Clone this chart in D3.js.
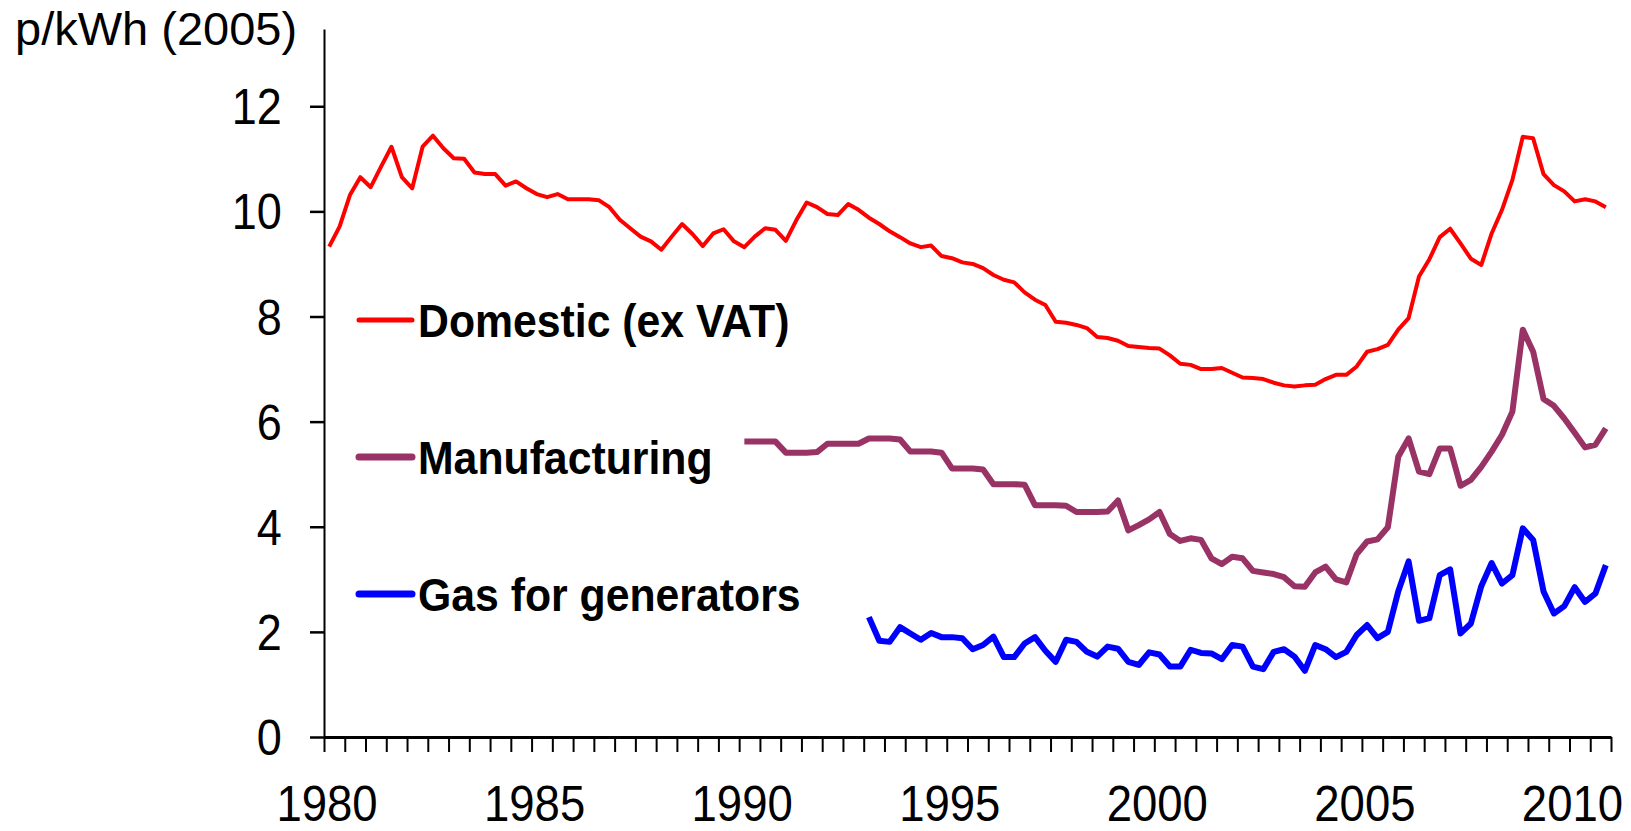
<!DOCTYPE html>
<html>
<head>
<meta charset="utf-8">
<script src="https://cdnjs.cloudflare.com/ajax/libs/d3/7.8.5/d3.min.js"></script>
<style>
    body { margin: 0; background: #fff; }
    svg { display: block; font-family: "Liberation Sans", Arial, sans-serif; }
</style>
</head>
<body>
<svg id="chart" width="1631" height="831"></svg>
<script>
// quarterly prices, p/kWh in 2005 money
const startYear = 1980;
const endYear = 2011;

const domestic = [
    9.33, 9.71, 10.31, 10.65, 10.46, 10.85, 11.23, 10.65, 10.44, 11.23,
    11.44, 11.20, 11.01, 11.00, 10.74, 10.71, 10.71, 10.49, 10.57, 10.44,
    10.33, 10.27, 10.33, 10.23, 10.23, 10.23, 10.21, 10.08, 9.84, 9.68,
    9.52, 9.43, 9.27, 9.52, 9.76, 9.57, 9.34, 9.58, 9.66, 9.43,
    9.32, 9.52, 9.68, 9.65, 9.44, 9.83, 10.17, 10.08, 9.95, 9.93,
    10.14, 10.03, 9.88, 9.76, 9.62, 9.51, 9.39, 9.32, 9.35, 9.15,
    9.11, 9.03, 9.00, 8.92, 8.79, 8.70, 8.65, 8.46, 8.32, 8.22,
    7.90, 7.88, 7.84, 7.78, 7.61, 7.59, 7.54, 7.44, 7.42, 7.40,
    7.39, 7.26, 7.10, 7.08, 7.00, 7.00, 7.02, 6.93, 6.84, 6.83,
    6.81, 6.74, 6.69, 6.67, 6.69, 6.70, 6.81, 6.89, 6.89, 7.05,
    7.33, 7.38, 7.46, 7.75, 7.97, 8.76, 9.09, 9.51, 9.67, 9.39,
    9.10, 8.98, 9.58, 10.03, 10.60, 11.42, 11.39, 10.71, 10.50, 10.38,
    10.19, 10.23, 10.19, 10.08
];

const manufacturingStart = 1990;
const manufacturing = [
    5.62, 5.62, 5.62, 5.62, 5.41, 5.41, 5.41, 5.42, 5.58, 5.58,
    5.58, 5.58, 5.68, 5.68, 5.68, 5.66, 5.43, 5.43, 5.43, 5.41,
    5.11, 5.11, 5.11, 5.09, 4.81, 4.81, 4.81, 4.80, 4.41, 4.41,
    4.41, 4.40, 4.28, 4.28, 4.28, 4.29, 4.50, 3.93, 4.03, 4.14,
    4.28, 3.86, 3.73, 3.78, 3.75, 3.40, 3.29, 3.43, 3.40, 3.16,
    3.13, 3.10, 3.04, 2.87, 2.86, 3.13, 3.24, 3.00, 2.94, 3.48,
    3.72, 3.76, 3.99, 5.33, 5.68, 5.05, 5.00, 5.49, 5.49, 4.78,
    4.89, 5.14, 5.43, 5.75, 6.19, 7.75, 7.33, 6.43, 6.30, 6.06,
    5.79, 5.51, 5.56, 5.87
];

const gasStart = 1993;
const gas = [
    2.28, 1.83, 1.81, 2.09, 1.97, 1.85, 1.98, 1.90,
    1.90, 1.88, 1.67, 1.75, 1.91, 1.52, 1.52, 1.78, 1.90, 1.64,
    1.43, 1.85, 1.81, 1.62, 1.53, 1.72, 1.68, 1.43, 1.37, 1.61,
    1.57, 1.34, 1.34, 1.66, 1.60, 1.59, 1.48, 1.75, 1.72, 1.34,
    1.29, 1.62, 1.67, 1.53, 1.26, 1.75, 1.67, 1.52, 1.62, 1.94,
    2.13, 1.88, 2.00, 2.77, 3.34, 2.21, 2.26, 3.08, 3.19, 1.97,
    2.16, 2.87, 3.31, 2.92, 3.08, 3.97, 3.75, 2.77, 2.35, 2.49,
    2.85, 2.57, 2.73, 3.27
];

const yearLabels = [1980, 1985, 1990, 1995, 2000, 2005, 2010];
const yTicks = [0, 2, 4, 6, 8, 10, 12];
const seriesNames = ["Domestic (ex VAT)", "Manufacturing", "Gas for generators"];
const unitLabel = "p/kWh (2005)";

// series styling, kept apart from the numbers
const seriesStyle = [
    {color: "#ff0000", width: 4},
    {color: "#993366", width: 6},
    {color: "#0000ff", width: 6}
];

const svg = d3.select("#chart");

const x = d3.scaleLinear().domain([startYear, endYear]).range([324, 1611]);
const y = d3.scaleLinear().domain([0, 13.47]).range([737, 29]);

//turn a list of quarterly values into points in the middle of each quarter
function toPoints(firstYear, values) {
    return values.map(function (v, i) {
        return {t: firstYear + (i + 0.5) / 4, v: v};
    });
}

const series = [
    toPoints(startYear, domestic),
    toPoints(manufacturingStart, manufacturing),
    toPoints(gasStart, gas)
];

//y axis
const yAxis = svg.append("g")
    .attr("transform", "translate(" + x(startYear) + ",0)")
    .call(d3.axisLeft(y).tickValues(yTicks).tickSize(14).tickSizeOuter(0).tickPadding(33));

yAxis.select(".domain").attr("stroke", "#000").attr("stroke-width", 2);
yAxis.selectAll(".tick line").attr("stroke", "#000").attr("stroke-width", 2.5);
yAxis.selectAll(".tick text")
    .attr("font-size", 50)
    .attr("font-family", "'Liberation Sans', Arial, sans-serif")
    .attr("fill", "#000")
    .attr("dy", "0.35em")
    .attr("transform", "scale(0.9,1)");

//x axis with half-year ticks
const halfYears = d3.range(startYear, endYear + 0.01, 0.5);
const xAxis = svg.append("g")
    .attr("transform", "translate(0," + y(0) + ")")
    .call(d3.axisBottom(x).tickValues(halfYears).tickSize(15).tickSizeOuter(0).tickFormat(""));

xAxis.select(".domain").attr("stroke", "#000").attr("stroke-width", 3);
xAxis.selectAll(".tick line").attr("stroke", "#000").attr("stroke-width", 2);

svg.append("g")
    .selectAll("text")
    .data(yearLabels)
    .enter().append("text")
    .attr("transform", function (d) {
        return "translate(" + (x(d) + 3) + ",821) scale(0.91,1)";
    })
    .attr("text-anchor", "middle")
    .attr("font-size", 50)
    .text(function (d) { return d; });

//unit label
svg.append("text")
    .attr("x", 15)
    .attr("y", 45)
    .attr("font-size", 47)
    .text(unitLabel);

//lines
const line = d3.line()
    .x(function (d) { return x(d.t); })
    .y(function (d) { return y(d.v); });

svg.append("g")
    .selectAll("path")
    .data(series)
    .enter().append("path")
    .attr("d", line)
    .attr("fill", "none")
    .attr("stroke", function (d, i) { return seriesStyle[i].color; })
    .attr("stroke-width", function (d, i) { return seriesStyle[i].width; })
    .attr("stroke-linejoin", "round");

//legend
const legendRows = [320, 457, 594];
const legend = svg.append("g")
    .selectAll("g")
    .data(seriesNames)
    .enter().append("g")
    .attr("transform", function (d, i) { return "translate(0," + legendRows[i] + ")"; });

legend.append("line")
    .attr("x1", 359).attr("x2", 412)
    .attr("y1", 0).attr("y2", 0)
    .attr("stroke", function (d, i) { return seriesStyle[i].color; })
    .attr("stroke-width", function (d, i) { return seriesStyle[i].width + 1; })
    .attr("stroke-linecap", "round");

legend.append("text")
    .attr("transform", "translate(418,17) scale(0.91,1)")
    .attr("font-size", 47)
    .attr("font-weight", "bold")
    .text(function (d) { return d; });
</script>
</body>
</html>
